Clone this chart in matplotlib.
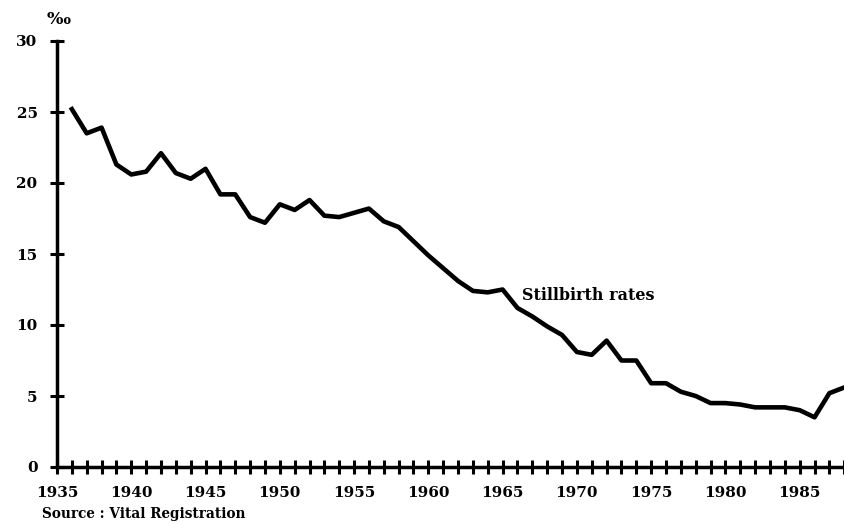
import matplotlib
matplotlib.use('Agg')
import matplotlib.pyplot as plt

years = list(range(1936, 1989))
rates = [25.2, 23.5, 23.9, 21.3, 20.6, 20.8, 22.1, 20.7, 20.3, 21.0,
         19.2, 19.2, 17.6, 17.2, 18.5, 18.1, 18.8, 17.7, 17.6, 17.9,
         18.2, 17.3, 16.9, 15.9, 14.9, 14.0, 13.1, 12.4, 12.3, 12.5,
         11.2, 10.6, 9.9, 9.3, 8.1, 7.9, 8.9, 7.5, 7.5, 5.9,
         5.9, 5.3, 5.0, 4.5, 4.5, 4.4, 4.2, 4.2, 4.2, 4.0,
         3.5, 5.2, 5.6]
x_labels = [1935, 1940, 1945, 1950, 1955, 1960, 1965, 1970, 1975, 1980, 1985]
y_ticks = [0, 5, 10, 15, 20, 25, 30]

fonts = ['DejaVu Serif', 'DejaVu Sans']

fig = plt.figure(figsize=(8.45, 5.24), dpi=100)
ax = fig.add_axes([57 / 845, 57 / 524, 788 / 845, 426 / 524])

ax.plot(years, rates, color='black', linewidth=3.3, solid_joinstyle='round')

ax.set_xlim(1935, 1988.05)
ax.set_ylim(0, 30)
for side in ['top', 'right']:
    ax.spines[side].set_visible(False)
for side in ['left', 'bottom']:
    ax.spines[side].set_linewidth(2.5)

ax.set_xticks(range(1935, 1989))
ax.set_xticklabels([str(y) if y in x_labels else '' for y in range(1935, 1989)])
ax.set_yticks(y_ticks)
ax.tick_params(axis='x', direction='inout', length=10, width=2.2, pad=9)
ax.tick_params(axis='y', direction='inout', length=10, width=2.2, pad=9)
for lab in ax.get_xticklabels() + ax.get_yticklabels():
    lab.set_family(fonts)
    lab.set_fontweight('bold')
    lab.set_fontsize(11)

fig.text(59 / 845, 1 - 20 / 524, '\u2030', family=fonts, fontweight='bold',
         fontsize=12.5, ha='center', va='center')
ax.text(1966.3, 12.1, 'Stillbirth rates', family=fonts, fontweight='bold',
        fontsize=11.5, ha='left', va='center')
fig.text(42 / 845, 1 - 514 / 524, 'Source : Vital Registration', family=fonts,
         fontweight='bold', fontsize=9.8, ha='left', va='center')

fig.savefig('out.png', dpi=100)
